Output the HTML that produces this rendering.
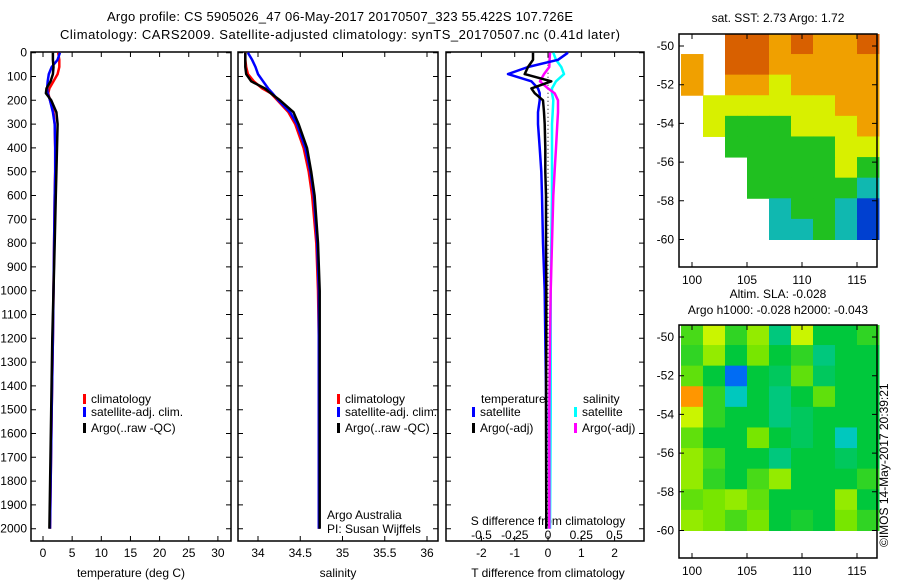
<!DOCTYPE html>
<html><head><meta charset="utf-8"><style>
html,body{margin:0;padding:0;background:#fff;}
svg{display:block;font-family:"Liberation Sans",sans-serif;font-size:12px;}
</style></head><body>
<svg id="fig" width="900" height="580" viewBox="0 0 900 580">
<text x="340" y="21" text-anchor="middle" font-size="13" textLength="466">Argo profile: CS 5905026_47 06-May-2017 20170507_323 55.422S 107.726E</text>
<text x="340" y="39" text-anchor="middle" font-size="13" textLength="560">Climatology: CARS2009. Satellite-adjusted climatology: synTS_20170507.nc (0.41d later)</text>
<g id="g"></g>
</svg>
<script>
// ---- data ----
const depthTicks=[0,100,200,300,400,500,600,700,800,900,1000,1100,1200,1300,1400,1500,1600,1700,1800,1900,2000];
const tempTicks=[0,5,10,15,20,25,30];
const salTicks=[34,34.5,35,35.5,36];
const salTickLabels=['34','34.5','35','35.5','36'];
const tdiffTicks=[-2,-1,0,1,2];
const sdiffTicks=[-0.5,-0.25,0,0.25,0.5];
const sdiffTickLabels=['-0.5','-0.25','0','0.25','0.5'];
const depths=[0,30,60,90,120,150,170,200,250,300,400,500,600,800,1000,1200,1500,2000];
const tempClim=[2.6,2.8,2.8,2.5,1.8,1.1,0.9,1.2,1.8,2.0,2.1,2.1,2.0,1.9,1.8,1.7,1.5,1.2];
const tempSat=[2.9,2.5,1.5,1.0,0.8,0.7,0.8,1.2,1.7,2.0,2.1,2.1,2.0,1.9,1.8,1.7,1.5,1.2];
const tempArgo=[1.7,1.7,1.8,1.7,1.3,0.6,0.5,1.4,2.3,2.5,2.4,2.3,2.2,2.0,1.8,1.6,1.4,1.1];
const salClim=[33.85,33.85,33.86,33.88,33.95,34.05,34.15,34.23,34.36,34.44,34.54,34.6,34.64,34.69,34.71,34.72,34.72,34.72];
const salSat=[33.88,33.93,33.97,34.0,34.06,34.12,34.17,34.24,34.38,34.46,34.56,34.62,34.66,34.7,34.72,34.72,34.72,34.72];
const salArgo=[33.85,33.85,33.85,33.86,33.92,34.08,34.15,34.26,34.42,34.48,34.58,34.63,34.67,34.71,34.73,34.73,34.73,34.73];
const tdiffSat=[0.6,0.3,-0.6,-1.2,-0.5,-0.3,-0.25,-0.25,-0.3,-0.3,-0.25,-0.2,-0.18,-0.15,-0.1,-0.08,-0.05,-0.05];
const tdiffArgo=[-0.45,-0.45,-0.6,-0.7,0.1,-0.5,-0.4,-0.15,-0.12,-0.1,-0.08,-0.08,-0.06,-0.06,-0.05,-0.05,-0.06,-0.05];
const sdiffSat=[0.04,0.06,0.1,0.12,0.06,0.03,0.03,0.04,0.035,0.03,0.03,0.03,0.03,0.025,0.02,0.02,0.02,0.015];
const sdiffArgo=[0.015,0.012,0.01,-0.03,-0.06,0.0,0.05,0.075,0.075,0.07,0.06,0.05,0.04,0.03,0.02,0.015,0.01,0.01];
// SST map grid (levels 1..6, 0 = missing); 10 rows lat -49.35 .. -60, cols lon 99..117 step 2
const sstGrid=[
[0,0,6,6,5,6,5,5,6],
[5,0,6,6,5,5,5,5,5],
[5,0,5,5,4,5,5,5,5],
[0,4,4,4,4,4,4,5,5],
[0,4,3,3,3,4,4,4,5],
[0,0,3,3,3,3,3,4,4],
[0,0,0,3,3,3,3,4,3],
[0,0,0,3,3,3,3,3,2],
[0,0,0,0,2,3,3,2,1],
[0,0,0,0,2,2,3,2,1]];
// SLA map grid (levels), 10 rows lat -49.35..-60, cols lon 99..117 step 2
const slaGrid=[
[3.3,3.8,3.2,3.6,2.8,3.8,3.0,3.0,3.2],
[3.2,3.6,3.0,3.5,3.0,3.2,2.8,3.0,3.0],
[3.4,3.0,2.1,3.0,2.9,3.4,2.9,3.0,3.0],
[4.6,3.2,2.6,3.0,2.8,3.0,3.4,3.0,3.0],
[3.8,3.2,3.0,3.0,2.8,2.9,3.0,3.0,3.0],
[3.4,3.0,3.0,3.5,3.0,2.9,3.0,2.6,3.0],
[3.6,3.3,3.0,3.0,2.8,3.0,3.0,2.9,3.0],
[3.6,3.2,3.0,3.3,3.6,3.0,3.0,3.0,3.2],
[3.4,3.5,3.6,3.4,3.0,3.0,3.0,3.6,3.0],
[3.6,3.5,3.3,3.5,3.0,3.1,3.0,3.5,3.2]];

const NS='http://www.w3.org/2000/svg';
const G=document.getElementById('g');
function mk(tag,attrs,parent){const e=document.createElementNS(NS,tag);for(const k in attrs)e.setAttribute(k,attrs[k]);(parent||G).appendChild(e);return e;}
function txt(x,y,s,anchor,parent){const e=mk('text',{x:x,y:y,'text-anchor':anchor||'start'},parent);e.textContent=s;return e;}
const top0=52.7, pxPer100=23.8;
function yD(d){return top0+d*pxPer100/100;}
const PT=52,PB=541;
function panel(x0,x1,name){
  const r=mk('rect',{x:x0,y:PT,width:x1-x0,height:PB-PT,fill:'none',stroke:'#000','stroke-width':1.5});
  
  
  depthTicks.forEach(d=>{
    const y=yD(d);
    const t=mk('path',{d:`M${x0},${y}h5M${x1},${y}h-5`,stroke:'#000'});
    
    
  });
}
function xticks(vals,labels,xf,name,labelY){
  vals.forEach((v,i)=>{
    const x=xf(v);
    const t=mk('path',{d:`M${x},${PT}v5M${x},${PB}v-5`,stroke:'#000'});
    
    
    const l=txt(x,labelY,labels[i],'middle');
    
    
  });
}
function line(vals,xf,color,name,w){
  const d=vals.map((v,i)=>(i?'L':'M')+xf(v).toFixed(1)+','+yD(depths[i]).toFixed(1)).join('');
  const p=mk('path',{d:d,fill:'none',stroke:color,'stroke-width':w||2.5,'stroke-linejoin':'round'});
  
  
}
function legendMark(x,y,color,label,name){
  const r=mk('rect',{x:x,y:y-9,width:3,height:10,fill:color});
  
  
  const t=txt(x+8,y,label);
  
  
}
depthTicks.forEach(d=>{const t=txt(27,yD(d)+4,String(d),'end');
  
  });

// Panel 1 temperature
const xT=v=>43+v*5.83;
panel(31,231,'temperature-panel');
xticks(tempTicks,tempTicks.map(String),xT,'temperature-axis',557);
line(tempClim,xT,'#ff0000','temperature-climatology-line');
line(tempSat,xT,'#0000ff','temperature-satellite-line');
line(tempArgo,xT,'#000','temperature-argo-line');
let t=txt(131,577,'temperature (deg C)','middle');
legendMark(83,403,'#ff0000','climatology','legend-climatology');
legendMark(83,416,'#0000ff','satellite-adj. clim.','legend-satellite');
legendMark(83,432,'#000','Argo(..raw -QC)','legend-argo');

// Panel 2 salinity
const xS=v=>258+(v-34)*84.5;
panel(238,438,'salinity-panel');
xticks(salTicks,salTickLabels,xS,'salinity-axis',557);
line(salClim,xS,'#ff0000','salinity-climatology-line');
line(salSat,xS,'#0000ff','salinity-satellite-line');
line(salArgo,xS,'#000','salinity-argo-line');
t=txt(338,577,'salinity','middle');
legendMark(337,403,'#ff0000','climatology','legend-climatology-2');
legendMark(337,416,'#0000ff','satellite-adj. clim.','legend-satellite-2');
legendMark(337,432,'#000','Argo(..raw -QC)','legend-argo-2');
t=txt(327,519,'Argo Australia');
t=txt(327,533,'PI: Susan Wijffels');

// Panel 3 differences
const xTd=v=>548+v*33.3;
const xSd=v=>548+v*133;
panel(446,644,'difference-panel');
xticks(tdiffTicks,tdiffTicks.map(String),xTd,'tdiff-axis',557);
sdiffTicks.forEach((v,i)=>{const l=txt(xSd(v),539,sdiffTickLabels[i],'middle');
  });
t=txt(548,525,'S difference from climatology','middle');
t=txt(548,577,'T difference from climatology','middle');
const z=mk('path',{d:`M548,${yD(0)}V${yD(2000)}`,stroke:'#000','stroke-dasharray':'1,3'});

line(sdiffSat,xSd,'#00ffff','sdiff-satellite-line');
line(sdiffArgo,xSd,'#ff00ff','sdiff-argo-line');
line(tdiffSat,xTd,'#0000ff','tdiff-satellite-line');
line(tdiffArgo,xTd,'#000','tdiff-argo-line');
t=txt(481,403,'temperature');
t=txt(583,403,'salinity');
legendMark(472,416,'#0000ff','satellite','legend-t-satellite');
legendMark(472,432,'#000','Argo(-adj)','legend-t-argo');
legendMark(574,416,'#00ffff','satellite','legend-s-satellite');
legendMark(574,432,'#ff00ff','Argo(-adj)','legend-s-argo');

// maps
const sstColors=['#ffffff','#0040d0','#10b8b0','#20c020','#d8f000','#f0a000','#d86000'];
function slaColor(v){
  const stops=[[2,[0,90,255]],[2.6,[0,200,190]],[3,[0,200,60]],[3.5,[120,230,0]],[3.9,[230,250,0]],[4.6,[255,150,0]]];
  if(v<=stops[0][0])return 'rgb('+stops[0][1]+')';
  for(let i=1;i<stops.length;i++){if(v<=stops[i][0]){const a=stops[i-1],b=stops[i],f=(v-a[0])/(b[0]-a[0]);
    return 'rgb('+a[1].map((c,k)=>Math.round(c+(b[1][k]-c)*f)).join(',')+')';}}
  return 'rgb('+stops[stops.length-1][1]+')';
}
function map(y0,grid,colorFn,name,title1,title2){
  const lonX=v=>681+(v-99)*11, latY=v=>y0+12+(-50-v)*19.35;
  const frameTop=y0, frameBot=y0+233;
  const rh=10.65/grid.length;
  grid.forEach((row,r)=>row.forEach((v,c)=>{
    if(!v)return;
    const lat0=-49.35-r*rh;
    const yy=Math.max(frameTop,latY(lat0));
    const x=lonX(99+c*2), w=22;
    const rc=mk('rect',{x:x,y:yy,width:w+0.5,height:latY(lat0-rh)-yy+0.5,fill:colorFn(v)});
    
    
  }));
  const f=mk('rect',{x:679,y:frameTop,width:198,height:233,fill:'none',stroke:'#000','stroke-width':1.5});
  
  [-50,-52,-54,-56,-58,-60].forEach(v=>{const y=latY(v);
    const tk=mk('path',{d:`M679,${y}h5M877,${y}h-5`,stroke:'#000'});
    
    const l=txt(674,y+4,String(v),'end');});
  [100,105,110,115].forEach(v=>{const x=lonX(v);
    const tk=mk('path',{d:`M${x},${frameTop}v5M${x},${frameBot}v-5`,stroke:'#000'});
    
    const l=txt(x,frameBot+17,String(v),'middle');});
  let a=txt(778,title2?y0-27:y0-12,title1,'middle');
  if(title2){a=txt(778,y0-11,title2,'middle');}
}
map(34,sstGrid,v=>sstColors[v],'sst-map','sat. SST: 2.73 Argo: 1.72');
map(325,slaGrid,slaColor,'sla-map','Altim. SLA: -0.028','Argo h1000: -0.028 h2000: -0.043');
const cr=mk('text',{x:0,y:0,transform:'translate(888,547) rotate(-90)'});
cr.textContent='\u00a9IMOS 14-May-2017 20:39:21';


</script>
</body></html>
